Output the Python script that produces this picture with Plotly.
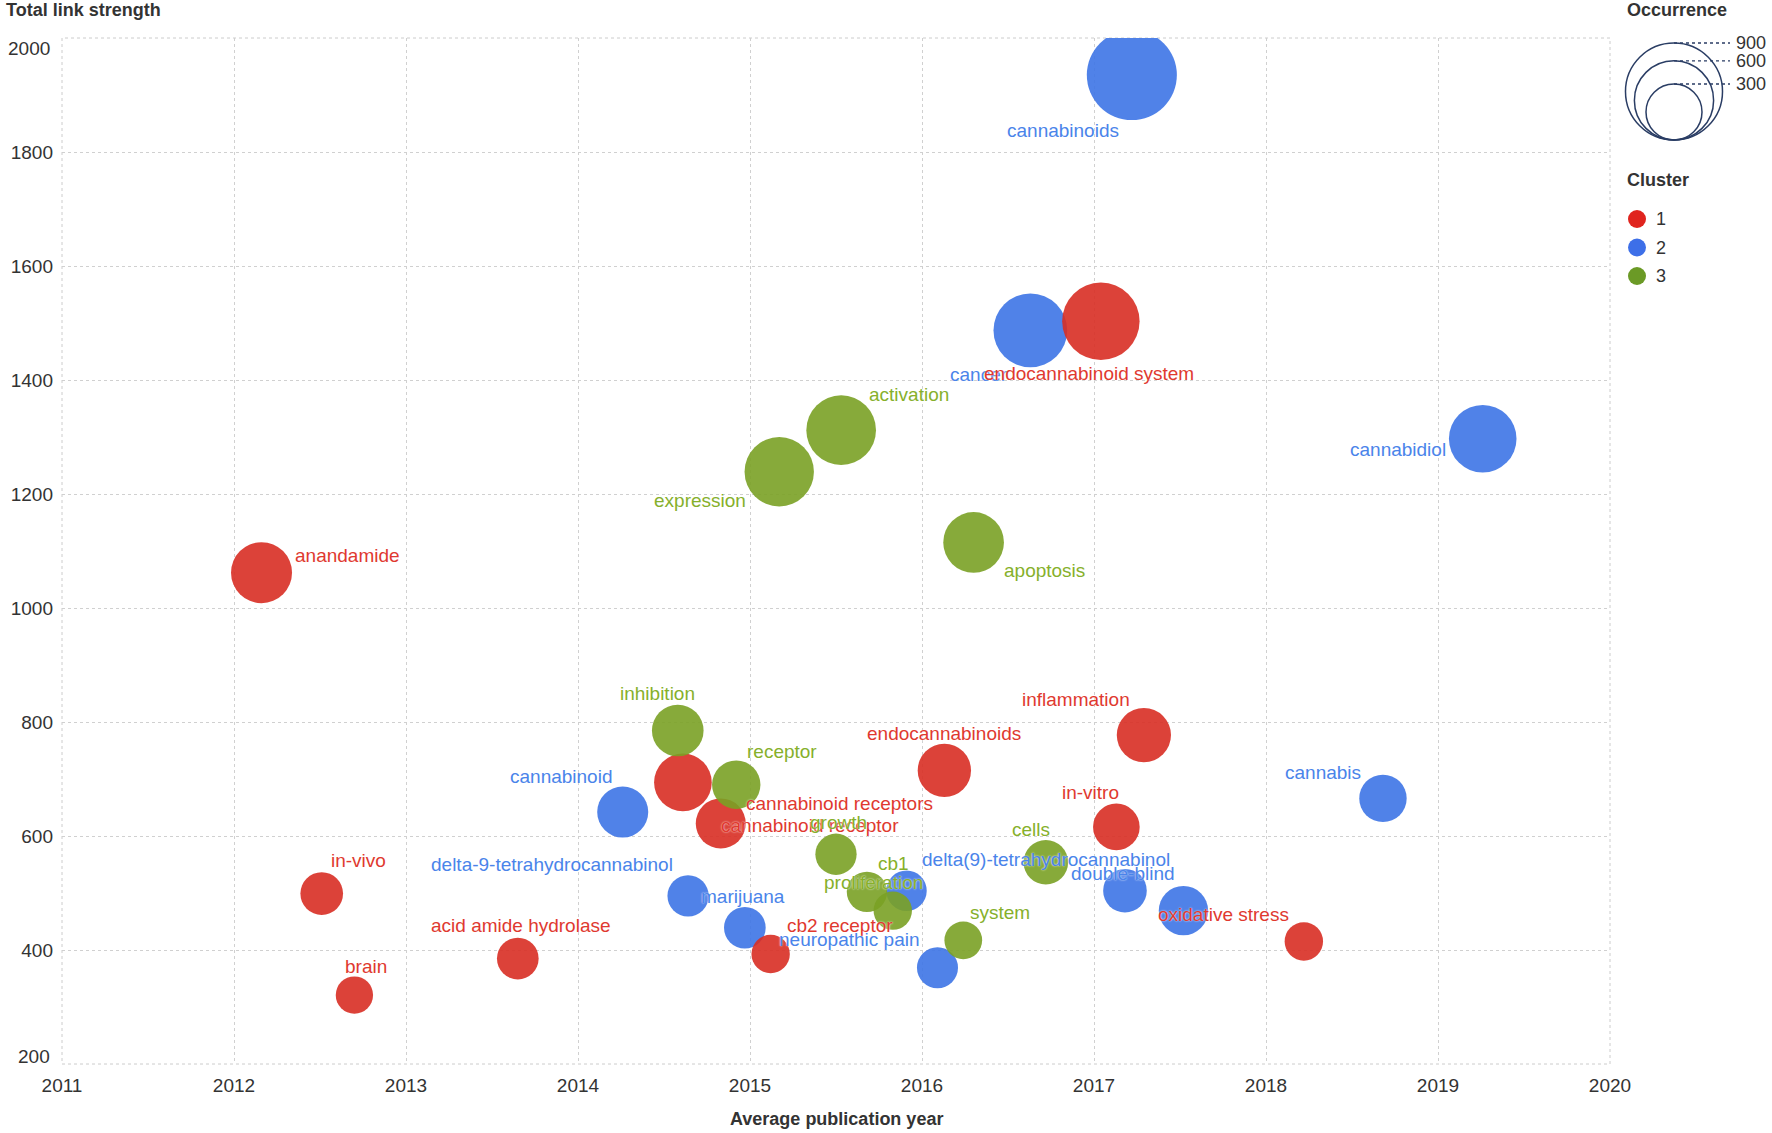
import numpy as np
import plotly.graph_objects as go

# keyword data
keywords = [
    "cannabinoids", "cancer", "endocannabinoid system", "cannabidiol",
    "activation", "expression", "apoptosis", "anandamide", "inflammation",
    "inhibition", "endocannabinoids", "receptor", "cannabinoid receptors",
    "cannabinoid receptor", "cannabinoid", "delta-9-tetrahydrocannabinol",
    "marijuana", "cb2 receptor", "neuropathic pain", "growth", "cb1",
    "proliferation", "delta(9)-tetrahydrocannabinol", "in-vitro", "cells",
    "", "double-blind", "oxidative stress", "cannabis", "system",
    "in-vivo", "brain", "acid amide hydrolase",
]
cluster = [2, 2, 1, 2, 3, 3, 3, 1, 1, 3, 1, 3, 1, 1, 2, 2,
           2, 1, 2, 3, 3, 3, 2, 1, 3, 2, 2, 1, 2, 3, 1, 1, 1]
avg_year = [2017.22, 2016.63, 2017.04, 2019.26, 2015.53, 2015.17, 2016.30,
            2012.16, 2017.29, 2014.58, 2016.13, 2014.92, 2014.61, 2014.83,
            2014.26, 2014.64, 2014.97, 2015.12, 2016.09, 2015.50, 2015.68,
            2015.83, 2015.91, 2017.13, 2016.72, 2017.18, 2017.52, 2018.22,
            2018.68, 2016.24, 2012.51, 2012.70, 2013.65]
link_strength = [1935, 1487, 1503, 1297, 1312, 1239, 1115, 1062, 777, 785,
                 715, 690, 694, 622, 642, 495, 439, 393, 369, 568, 502, 469,
                 504, 616, 554, 504, 469, 415, 666, 417, 499, 321, 385]
occurrence = [775, 520, 573, 437, 464, 460, 352, 356, 281, 255, 272, 224,
              318, 239, 249, 163, 166, 141, 161, 163, 156, 141, 156, 208,
              190, 182, 233, 141, 215, 136, 174, 133, 166]

x_ticks = list(range(2011, 2021))
y_ticks = list(range(200, 2001, 200))
legend_occ = [900, 600, 300]
cluster_ids = [1, 2, 3]

# label offsets from bubble centre, in pixels (right, down)
label_dx = [-69, -51, -12, -85, 68, -79, 71, 86, -68, -20, 0, 46, 157, 89,
            -62, -136, -2, 69, -88, 2, 27, -19, 139, -26, -15, 0, -60, -80,
            -60, 37, 37, 12, 3]
label_dy = [55, 44, 52, 11, -36, 29, 28, -17, -36, -37, -37, -33, 21, 2,
            -36, -31, -31, -28, -28, -32, -28, -28, -31, -34, -33, 0, -37,
            -27, -26, -28, -33, -29, -33]

W, H = 1772, 1133
PL, PR, PT, PB = 62, 1610, 38, 1064   # plot box in pixels
ML, MR, MT, MB = PL, W - PR, PT, H - PB
R_SCALE = 1.617  # bubble radius in px per sqrt(occurrence)

bubble_col = {1: "#d82d24", 2: "#3d74e6", 3: "#7aa125"}
dot_col = {1: "#e0241e", 2: "#3d6fe8", 3: "#6b9a26"}
text_col = {1: "#e0392f", 2: "#4a84ea", 3: "#86b02b"}
FONT = "Liberation Sans, Arial, sans-serif"
DARK = "#333333"


def px_x(px):
    return (px - PL) / (PR - PL)


def px_y(py):
    return (PB - py) / (PB - PT)


def paper_text(px, py, text, anchor="left", size=18):
    return dict(x=px_x(px), y=px_y(py), xref="paper", yref="paper",
                xanchor=anchor, yanchor="middle", text=text, showarrow=False,
                font=dict(family=FONT, size=size, color=DARK))


fig = go.Figure()

for c in [2, 1, 3]:
    idx = [i for i, k in enumerate(cluster) if k == c]
    fig.add_trace(go.Scatter(
        x=[avg_year[i] for i in idx],
        y=[link_strength[i] for i in idx],
        mode="markers",
        name=str(c),
        text=[keywords[i] for i in idx],
        customdata=[occurrence[i] for i in idx],
        hovertemplate="%{text}<br>year %{x}<br>links %{y}<br>occ %{customdata}<extra></extra>",
        marker=dict(
            size=[occurrence[i] for i in idx],
            sizemode="area",
            sizeref=1 / (2 * R_SCALE ** 2),
            color=bubble_col[c],
            opacity=0.9,
            line=dict(width=0),
        ),
        showlegend=False,
    ))

annotations = []
for i, kw in enumerate(keywords):
    if not kw:
        continue
    annotations.append(dict(
        x=avg_year[i], y=link_strength[i], xref="x", yref="y",
        text=kw, showarrow=False, xanchor="center", yanchor="middle",
        xshift=label_dx[i], yshift=-label_dy[i],
        font=dict(family=FONT, size=19, color=text_col[cluster[i]],
                  shadow="0px 0px 2px #ffffff"),
    ))

# end y tick labels are pulled inside the plot box
for v, shift in [(y_ticks[0], 8), (y_ticks[-1], -10)]:
    annotations.append(dict(
        x=0, y=v, xref="paper", yref="y", xanchor="right", yanchor="middle",
        xshift=-10, yshift=shift, text=str(v), showarrow=False,
        font=dict(family=FONT, size=19, color=DARK),
    ))

# axis titles
annotations.append(paper_text(4, 10, "<b>Total link strength</b>"))
annotations.append(paper_text((PL + PR) / 2, 1119,
                              "<b>Average publication year</b>", "center"))

shapes = [dict(
    type="rect", xref="paper", yref="paper", x0=0, x1=1, y0=0, y1=1,
    line=dict(color="#cccccc", width=1, dash="dot"), layer="below",
)]

# size legend
annotations.append(paper_text(1625, 10, "<b>Occurrence</b>"))
cx, by = px_x(1674), px_y(140)
for occ in legend_occ:
    r = R_SCALE * np.sqrt(occ)
    shapes.append(dict(
        type="circle", xref="paper", yref="paper",
        xsizemode="pixel", ysizemode="pixel", xanchor=cx, yanchor=by,
        x0=-r, x1=r, y0=0, y1=2 * r,
        line=dict(color="#2a3d64", width=1.5),
    ))
    shapes.append(dict(
        type="line", xref="paper", yref="paper",
        xsizemode="pixel", ysizemode="pixel", xanchor=cx, yanchor=by,
        x0=0, x1=56, y0=2 * r, y1=2 * r,
        line=dict(color="#2a3d64", width=1.3, dash="dot"),
    ))
    annotations.append(paper_text(1734, 140 - 2 * r, str(occ)))

# cluster legend
annotations.append(paper_text(1625, 180, "<b>Cluster</b>"))
for j, c in enumerate(cluster_ids):
    yy = 219 + j * 28.5
    shapes.append(dict(
        type="circle", xref="paper", yref="paper",
        xsizemode="pixel", ysizemode="pixel",
        xanchor=px_x(1637), yanchor=px_y(yy),
        x0=-9, x1=9, y0=-9, y1=9,
        fillcolor=dot_col[c], line=dict(width=0),
    ))
    annotations.append(paper_text(1654, yy, str(c)))

fig.update_layout(
    width=W, height=H,
    margin=dict(l=ML, r=MR, t=MT, b=MB),
    paper_bgcolor="white", plot_bgcolor="white",
    font=dict(family=FONT, size=19, color=DARK),
    xaxis=dict(
        range=[x_ticks[0], x_ticks[-1]], tickvals=x_ticks,
        showgrid=True, gridcolor="#d0d0d0", griddash="dot", gridwidth=1,
        zeroline=False, showline=False, ticks="",
        ticklabelstandoff=8,
    ),
    yaxis=dict(
        range=[y_ticks[0], y_ticks[-1]], tickvals=y_ticks[1:-1],
        showgrid=True, gridcolor="#d0d0d0", griddash="dot", gridwidth=1,
        zeroline=False, showline=False, ticks="",
        ticklabelstandoff=8,
    ),
    shapes=shapes,
    annotations=annotations,
    showlegend=False,
)

# drop the default page margin so the figure sits at the window corner
fig.write_html("out.html", config={"displayModeBar": False},
               post_script="document.body.style.margin = '0';")
